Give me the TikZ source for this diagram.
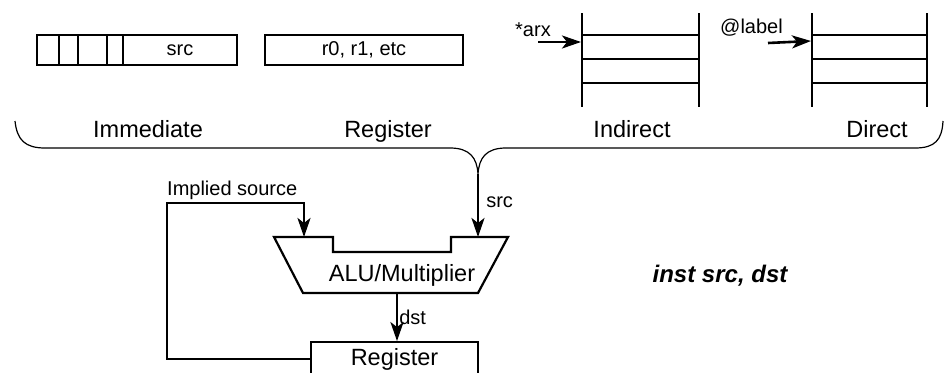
\documentclass[tikz,border=0pt]{standalone}
\usepackage{fontspec}
\setmainfont{Liberation Sans}
\usetikzlibrary{arrows.meta, positioning}

\begin{document}
\begin{tikzpicture}[
    x=1pt, y=-1pt,
    >={Stealth[length=19pt, width=13pt, inset=5pt]},
    field/.style={
        draw=black, rectangle, line width=1.8pt, inner sep=0pt,
        minimum height=30pt, font=\fontsize{20}{24}\selectfont
    },
    stack/.style={line width=2.8pt},
    conn/.style={->, line width=2.6pt},
    wire/.style={line width=2.2pt},
    lbl/.style={font=\fontsize{20}{24}\selectfont, inner sep=0pt},
    mode/.style={font=\fontsize{23.5}{28}\selectfont, inner sep=0pt, anchor=base}
]

\useasboundingbox (0,0) rectangle (947,372);

% -------------------------
% Operand fields
% -------------------------

% Immediate field with its bit cells
\node[field, minimum width=200pt] (ImmBox) at (137,50) {};
\foreach \x in {59,78,107,123}
    \draw[line width=1.8pt] (\x,35) -- (\x,65);
\node[lbl] (ImmSrc) at (180,50) {src};

% Register field
\node[field, minimum width=198pt] (RegField) at (364,50) {r0, r1, etc};

% Indirect and Direct memory stacks
\foreach \a/\b in {582/699, 812/927} {
    \draw[stack] (\a,13) -- (\a,107);
    \draw[stack] (\b,13) -- (\b,107);
    \foreach \y in {35,59,83}
        \draw[stack] (\a,\y) -- (\b,\y);
}

% Pointers into the stacks
\node[lbl, anchor=base west] (Arx) at (515,36) {*arx};
\coordinate (ArxTail) at (538,42);
\coordinate (IndIn) at (581,42);
\draw[conn] (ArxTail) -- (IndIn);

\node[lbl, anchor=base west] (Lbl) at (720,33) {@label};
\coordinate (LblTail) at (768,43);
\coordinate (DirIn) at (811,41);
\draw[conn] (LblTail) -- (DirIn);

% Mode names
\node[mode] (Imm) at (148,137) {Immediate};
\node[mode] (Reg) at (388,137) {Register};
\node[mode] (Ind) at (632,137) {Indirect};
\node[mode] (Dir) at (877,137) {Direct};

% Brace gathering the modes
\coordinate (Cusp) at (478,174);
\draw[line width=1.2pt] (15,121) .. controls (17,140) and (25,148) .. (45,148)
    -- (450,148) .. controls (470,148) and (477,158) .. (Cusp)
    .. controls (479,158) and (486,148) .. (506,148)
    -- (915,148) .. controls (935,148) and (942,140) .. (943,121);

% -------------------------
% ALU and destination
% -------------------------

\draw[wire] (274,237) -- (333,237) -- (333,252) -- (451,252) -- (451,237)
    -- (508,237) -- (478,293) -- (303,293) -- cycle;
\node[mode, anchor=center] (Alu) at (402,275) {ALU/Multiplier};

\coordinate (AluSrc) at (478,237);
\coordinate (AluImp) at (304,237);
\coordinate (AluOut) at (397,293);

\node[field, minimum width=167pt, minimum height=34pt,
      font=\fontsize{23.5}{28}\selectfont] (RegBox) at (394.5,359) {Register};

% src into the ALU
\draw[conn] (Cusp) -- (AluSrc)
    node[lbl, pos=0.45, right=7pt] {src};

% dst out of the ALU
\draw[conn] (AluOut) -- (AluOut |- RegBox.north)
    node[lbl, midway, right=1pt] {dst};

% Implied source loop
\coordinate (Loop) at (167,203);
\draw[conn, line join=miter] (RegBox.west) -| (Loop) -| (AluImp);
\node[lbl, anchor=base west] (Implied) at (167,195) {Implied source};

% Syntax
\node[font=\fontsize{24}{28}\selectfont\bfseries\itshape] (Inst) at (720,276) {inst src, dst};

\end{tikzpicture}
\end{document}
